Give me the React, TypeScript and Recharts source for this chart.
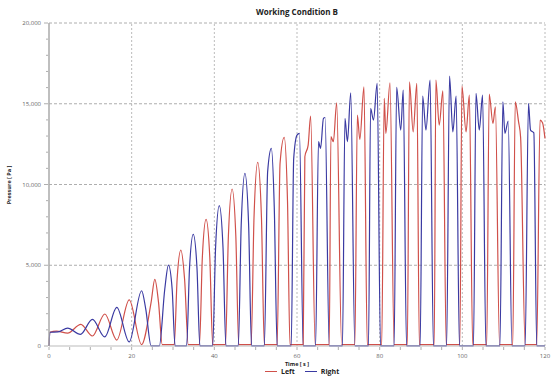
import { LineChart, Line, XAxis, YAxis, ReferenceLine } from 'recharts'

// time [s], pressure [Pa]
const leftSeries: [number, number][] = [
  [0, 0], [0.2, 850], [1.8, 920], [4.5, 800], [7.7, 1340], [10.5, 620], [13.5, 1980],
  [16.4, 370], [19.4, 2850], [22.4, 90], [24.7, 2700], [25.6, 4130], [26.5, 2700], [27.4, 90],
  [30.3, 90], [31.0, 4150], [31.9, 5940], [32.8, 4150], [33.7, 90],
  [36.4, 90], [37.1, 5490], [38.0, 7840], [38.9, 5490], [39.6, 90],
  [42.7, 90], [43.4, 6800], [44.3, 9720], [45.2, 6800], [45.9, 90],
  [48.9, 90], [49.6, 7960], [50.5, 11370], [51.4, 7960], [52.1, 90],
  [55.2, 90], [55.9, 11310], [56.9, 12920], [57.7, 9000], [58.3, 90],
  [61.5, 90], [61.9, 11720], [62.7, 12440], [63.3, 14240], [64.4, 90],
  [67.8, 90], [68.2, 12960], [68.8, 12650], [69.6, 15060], [70.8, 90],
  [74.0, 90], [74.6, 14300], [75.2, 12790], [76.2, 16050], [77.0, 90],
  [80.5, 90], [81.1, 15330], [81.5, 13170], [82.5, 16300], [83.5, 90],
  [86.7, 90], [87.2, 16360], [88.1, 13260], [89.0, 16260], [89.6, 90],
  [93.2, 90], [93.6, 16470], [94.4, 13680], [95.3, 15800], [96.1, 90],
  [99.4, 90], [99.9, 16090], [100.9, 13260], [101.7, 15540], [102.5, 90],
  [105.9, 90], [106.5, 15600], [107.4, 13780], [108.0, 14810], [109.0, 90],
  [112.2, 90], [112.8, 15120], [113.6, 13890], [114.1, 12920], [115.2, 90],
  [118.0, 90], [118.8, 13990], [119.4, 13820], [120, 12850],
]

const rightSeries: [number, number][] = [
  [0, 0], [0.2, 850], [2.2, 870], [4.5, 1110], [7.6, 720], [10.5, 1650], [13.5, 560],
  [16.4, 2390], [19.4, 250], [22.4, 3420], [23.4, 2300], [24.7, 10], [26.7, 10],
  [28.0, 3500], [28.9, 5010], [29.8, 3500], [30.5, 10],
  [33.3, 10], [34.0, 4840], [34.9, 6910], [35.8, 4840], [36.5, 10],
  [39.6, 10], [40.3, 6080], [41.2, 8690], [42.1, 6080], [42.8, 10],
  [45.8, 10], [46.5, 7480], [47.4, 10690], [48.3, 7480], [49.0, 10],
  [52.1, 10], [52.9, 10800], [53.8, 12240], [54.5, 8600], [55.2, 10],
  [58.6, 10], [59.2, 11600], [60.0, 13060], [60.6, 13170], [61.5, 10],
  [64.5, 10], [65.2, 12650], [65.7, 12240], [66.4, 14090], [66.8, 14150], [67.8, 10],
  [71.0, 10], [71.6, 14090], [72.2, 12650], [73.0, 15680], [74.0, 10],
  [77.3, 10], [77.8, 14710], [78.5, 13990], [79.4, 16260], [80.2, 10],
  [83.5, 10], [84.1, 16010], [85.1, 13370], [85.7, 15850], [86.5, 10],
  [89.8, 10], [90.4, 15480], [91.2, 13370], [92.2, 16470], [93.0, 10],
  [96.2, 10], [96.9, 16710], [97.7, 13260], [98.5, 15480], [99.3, 10],
  [102.7, 10], [103.3, 15640], [104.1, 13370], [104.9, 15540], [105.7, 10],
  [109.1, 10], [109.8, 15120], [110.3, 13170], [111.1, 13930], [112.0, 10],
  [115.2, 10], [116.0, 15020], [116.5, 13370], [117.3, 13200], [118.0, 10], [120, 10],
]

const xTicks = [0, 5, 10, 15, 20, 25, 30, 35, 40, 45, 50, 55, 60, 65, 70, 75, 80, 85, 90, 95, 100, 105, 110, 115, 120]
const xGrid = [20, 40, 60, 80, 100, 120]
const yTicks = [0, 1000, 2000, 3000, 4000, 5000, 6000, 7000, 8000, 9000, 10000, 11000, 12000, 13000, 14000, 15000, 16000, 17000, 18000, 19000, 20000]
const yGrid = [5000, 10000, 15000, 20000]

const leftData = leftSeries.map(([t, p]) => ({ t, p }))
const rightData = rightSeries.map(([t, p]) => ({ t, p }))

const RED = '#d0504a'
const BLUE = '#3a3aa2'
const FONT = '"Open Sans", "DejaVu Sans", sans-serif'

const XTick = (props: any) => {
  const { x, y, payload } = props
  const major = payload.value % 20 === 0
  return (
    <g>
      <line x1={x} x2={x} y1={y + 1} y2={y + 4} stroke="#999" strokeWidth={0.8} />
      {major && (
        <text x={x} y={y + 12} textAnchor="middle" fontSize={6} fill="#666" fontFamily={FONT}>
          {payload.value}
        </text>
      )}
    </g>
  )
}

const YTick = (props: any) => {
  const { x, y, payload } = props
  const major = payload.value % 5000 === 0
  return (
    <g>
      <line x1={x - (major ? 5 : 3)} x2={x - 1} y1={y} y2={y} stroke="#999" strokeWidth={0.8} />
      {major && (
        <text x={x - 8} y={y + 2} textAnchor="end" fontSize={6} fill="#666" fontFamily={FONT}>
          {payload.value.toLocaleString('en-US')}
        </text>
      )}
    </g>
  )
}

export default function App() {
  return (
    <div style={{ position: 'absolute', left: 0, top: 0, width: 558, height: 382, background: '#fff', fontFamily: FONT }}>
      <div style={{ position: 'absolute', left: 0, width: 594, top: 6, textAlign: 'center', fontSize: 8, fontWeight: 700, color: '#222' }}>
        Working Condition B
      </div>
      <LineChart width={558} height={382} margin={{ top: 23, right: 13, bottom: 0, left: 0 }}>
        {xGrid.map((v) => (
          <ReferenceLine key={'x' + v} x={v} stroke="#aaa" strokeDasharray="2 2" strokeWidth={0.8} />
        ))}
        {yGrid.map((v) => (
          <ReferenceLine key={'y' + v} y={v} stroke="#999" strokeDasharray="3 2" strokeWidth={0.8} />
        ))}
        <XAxis
          type="number"
          dataKey="t"
          domain={[0, 120]}
          ticks={xTicks}
          interval={0}
          height={36}
          tickSize={0}
          tickMargin={0}
          tick={<XTick />}
          tickLine={false}
          axisLine={{ stroke: '#bbb' }}
        />
        <YAxis
          type="number"
          domain={[0, 20000]}
          ticks={yTicks}
          interval={0}
          width={49}
          tickSize={0}
          tickMargin={0}
          tick={<YTick />}
          tickLine={false}
          axisLine={{ stroke: '#aaa', strokeWidth: 1.5 }}
        />
        <Line data={leftData} dataKey="p" type="monotone" stroke={RED} strokeWidth={1.2} dot={false} isAnimationActive={false} />
        <Line data={rightData} dataKey="p" type="monotone" stroke={BLUE} strokeWidth={1.2} dot={false} isAnimationActive={false} />
      </LineChart>
      <div style={{ position: 'absolute', left: 9, top: 185, transform: 'translate(-50%, -50%) rotate(-90deg)', fontSize: 5.5, fontWeight: 700, color: '#222', whiteSpace: 'nowrap' }}>
        Pressure [ Pa ]
      </div>
      <div style={{ position: 'absolute', left: 297, top: 364.5, transform: 'translate(-50%, -50%)', fontSize: 5.5, fontWeight: 700, color: '#222', whiteSpace: 'nowrap', lineHeight: 1 }}>
        Time [ s ]
      </div>
      <div style={{ position: 'absolute', left: 265, top: 368, display: 'flex', alignItems: 'center', fontSize: 7, fontWeight: 700, color: '#222', whiteSpace: 'nowrap', lineHeight: 1 }}>
        <span style={{ display: 'inline-block', width: 12, height: 1.5, background: RED, marginRight: 4 }} />
        <span style={{ marginRight: 10 }}>Left</span>
        <span style={{ display: 'inline-block', width: 12, height: 1.5, background: BLUE, marginRight: 4 }} />
        <span>Right</span>
      </div>
    </div>
  )
}
